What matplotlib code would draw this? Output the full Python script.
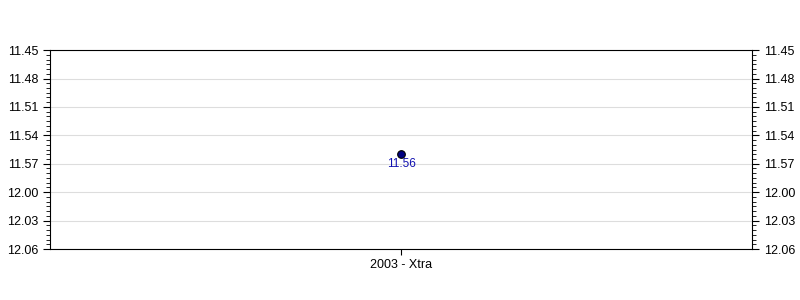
import matplotlib
matplotlib.use("Agg")
import matplotlib.pyplot as plt
from matplotlib.ticker import MultipleLocator, FuncFormatter

# Race times stored as "minutes.seconds"
categories = ["2003 - Xtra"]
times = ["11.56"]
y_min_label = "11.45"
y_max_label = "12.06"


def to_seconds(t):
    m, s = t.split(".")
    return int(m) * 60 + int(s)


def fmt_time(v, pos=None):
    v = int(round(v))
    return "%d.%02d" % (v // 60, v % 60)


plt.rcParams["font.family"] = ["Liberation Sans", "DejaVu Sans"]

fig = plt.figure(figsize=(8, 3), dpi=100)
ax = fig.add_axes([0.0625, 0.17, 0.8775, 0.663])

xs = list(range(len(categories)))
ys = [to_seconds(t) for t in times]
ax.plot(xs, ys, linestyle="none", marker="o", markersize=5.5,
        markerfacecolor="#000080", markeredgecolor="black", markeredgewidth=0.8, zorder=3)
for x, y, t in zip(xs, ys, times):
    ax.annotate(t, (x, y), xytext=(0, -3), textcoords="offset points",
                ha="center", va="top", fontsize=8.5, color="#1010b0")

ax.set_xlim(-0.5, len(categories) - 0.5)
ax.set_ylim(to_seconds(y_max_label), to_seconds(y_min_label))
ax.set_xticks(xs)
ax.set_xticklabels(categories, fontsize=9)

ax.yaxis.set_major_locator(MultipleLocator(3))
ax.yaxis.set_minor_locator(MultipleLocator(0.5))
ax.yaxis.set_major_formatter(FuncFormatter(fmt_time))
ax.tick_params(axis="y", which="both", left=True, right=True,
               labelleft=True, labelright=True, labelsize=9, direction="out")
ax.tick_params(axis="y", which="major", length=5)
ax.tick_params(axis="y", which="minor", length=3)
ax.tick_params(axis="x", length=4)

ax.grid(axis="y", color="#dddddd", linewidth=0.8)
ax.set_axisbelow(True)
for sp in ax.spines.values():
    sp.set_linewidth(0.8)

fig.savefig("out.png", dpi=100)
